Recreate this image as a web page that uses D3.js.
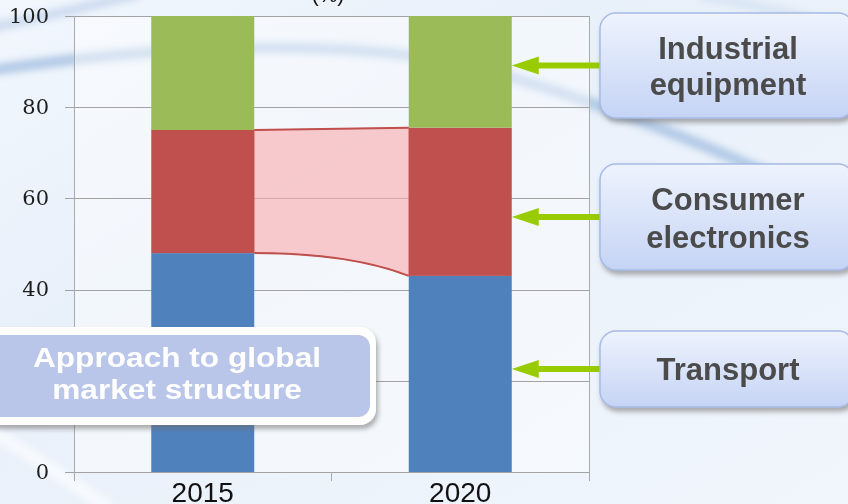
<!DOCTYPE html>
<html>
<head>
<meta charset="utf-8">
<script src="https://cdn.jsdelivr.net/npm/d3@7"></script>
<style>
  html, body { margin: 0; padding: 0; background: #eef4fb; }
  svg { display: block; }
</style>
</head>
<body>
<svg id="chart" width="848" height="504"></svg>
<script>
// ---- data ----
const years = ["2015", "2020"];
const segmentKeys = ["Transport", "Consumer electronics", "Industrial equipment"];
const transport = [48, 43];
const consumer = [27, 32.5];
const industrial = [25, 24.5];
const yTicks = [0, 20, 40, 60, 80, 100];
const segmentColors = ["#4f81bd", "#c0504d", "#9bbb59"];
const calloutLines = [["Industrial", "equipment"], ["Consumer", "electronics"], ["Transport"]];
const titleLines = ["Approach to global", "market structure"];
const unitLabel = "(%)";

// ---- layout ----
const W = 848, H = 504;
const plot = { left: 74, right: 589, top: 16, bottom: 472 };

const svg = d3.select("#chart");
const defs = svg.append("defs");

const bgGrad = defs.append("linearGradient").attr("id", "bgGrad")
  .attr("x1", 0).attr("y1", 0).attr("x2", 1).attr("y2", 1);
bgGrad.append("stop").attr("offset", 0).attr("stop-color", "#f2f7fd");
bgGrad.append("stop").attr("offset", 0.35).attr("stop-color", "#e8f0fa");
bgGrad.append("stop").attr("offset", 1).attr("stop-color", "#f1f6fc");

const boxGrad = defs.append("linearGradient").attr("id", "boxGrad")
  .attr("x1", 0).attr("y1", 0).attr("x2", 0).attr("y2", 1);
boxGrad.append("stop").attr("offset", 0).attr("stop-color", "#eef3fd");
boxGrad.append("stop").attr("offset", 1).attr("stop-color", "#c5d4f5");

const soft = defs.append("filter").attr("id", "soft")
  .attr("x", "-10%").attr("y", "-50%").attr("width", "120%").attr("height", "200%");
soft.append("feGaussianBlur").attr("stdDeviation", 3.5);

const shadow = defs.append("filter").attr("id", "shadow")
  .attr("x", "-10%").attr("y", "-20%").attr("width", "130%").attr("height", "150%");
shadow.append("feGaussianBlur").attr("in", "SourceAlpha").attr("stdDeviation", 2.5).attr("result", "b");
shadow.append("feOffset").attr("in", "b").attr("dx", 2).attr("dy", 4).attr("result", "o");
shadow.append("feFlood").attr("flood-color", "#6b6b6b").attr("flood-opacity", 0.55);
shadow.append("feComposite").attr("in2", "o").attr("operator", "in").attr("result", "s");
const sm = shadow.append("feMerge");
sm.append("feMergeNode").attr("in", "s");
sm.append("feMergeNode").attr("in", "SourceGraphic");

// ---- background ----
svg.append("rect").attr("width", W).attr("height", H).attr("fill", "url(#bgGrad)");

// decorative swooshes
const swoosh = svg.append("g").attr("filter", "url(#soft)").attr("fill", "none");
swoosh.append("path")
  .attr("d", "M-20,72 C60,60 170,46 300,48 C400,50 470,62 520,80 C600,104 700,140 860,215")
  .attr("stroke", "#a8c2e3").attr("stroke-width", 11).attr("opacity", 0.85);
swoosh.append("path")
  .attr("d", "M-20,30 C30,20 80,8 140,-6")
  .attr("stroke", "#c0d3eb").attr("stroke-width", 10).attr("opacity", 0.75);
swoosh.append("path")
  .attr("d", "M700,-4 C760,6 810,16 860,34")
  .attr("stroke", "#cddcf0").attr("stroke-width", 8).attr("opacity", 0.6);
swoosh.append("path")
  .attr("d", "M-10,430 C30,455 70,480 110,510")
  .attr("stroke", "#ffffff").attr("stroke-width", 14).attr("opacity", 0.6);

// plot area wash
svg.append("rect")
  .attr("x", plot.left).attr("y", plot.top)
  .attr("width", plot.right - plot.left).attr("height", plot.bottom - plot.top)
  .attr("fill", "#ffffff").attr("opacity", 0.45);

// ---- scales ----
const x = d3.scaleBand().domain(years).range([plot.left, plot.right])
  .paddingInner(0.6).paddingOuter(0.3);
const y = d3.scaleLinear().domain([0, 100]).range([plot.bottom, plot.top]);

// ---- gridlines + y labels ----
const yAxis = d3.axisLeft(y).tickValues(yTicks).tickFormat(d3.format("d"))
  .tickSize(-(plot.right - 65)).tickPadding(16);
const yg = svg.append("g").attr("transform", "translate(65,0)").call(yAxis);
yg.select(".domain").remove();
yg.selectAll(".tick line").attr("stroke", "#a3a3a3").attr("shape-rendering", "crispEdges");
yg.selectAll(".tick text")
  .attr("font-family", "'DejaVu Serif', serif").attr("font-size", 21)
  .attr("fill", "#1e1e1e").attr("dy", "0.3em");

// vertical frame lines and category boundary ticks
const boundaries = [plot.left, x(years[1]) - x.step() * x.paddingInner() / 2, plot.right];
svg.append("g").selectAll("line").data(boundaries).join("line")
  .attr("x1", d => d).attr("x2", d => d)
  .attr("y1", (d, i) => i === 1 ? plot.bottom : plot.top)
  .attr("y2", plot.bottom + 9)
  .attr("stroke", "#aaaaaa").attr("shape-rendering", "crispEdges");

// ---- stacked data ----
const rows = years.map((yr, i) => ({
  year: yr,
  "Transport": transport[i],
  "Consumer electronics": consumer[i],
  "Industrial equipment": industrial[i]
}));
const series = d3.stack().keys(segmentKeys)(rows);

// flow band connecting the consumer-electronics segments
const ce = series[1];
const bx0 = x(years[0]) + x.bandwidth();
const bx1 = x(years[1]);
const top0 = y(ce[0][1]), top1 = y(ce[1][1]);
const bot0 = y(ce[0][0]), bot1 = y(ce[1][0]);
const cx = bx0 + 0.62 * (bx1 - bx0);
const bandPath = d3.path();
bandPath.moveTo(bx0, top0);
bandPath.lineTo(bx1, top1);
bandPath.lineTo(bx1, bot1);
bandPath.quadraticCurveTo(cx, bot0, bx0, bot0);
bandPath.closePath();
svg.append("path").attr("d", bandPath.toString())
  .attr("fill", "rgb(249,172,176)").attr("fill-opacity", 0.62)
  .attr("stroke", "#d9777a").attr("stroke-width", 1).attr("stroke-opacity", 0.7);

// ---- bars ----
svg.append("g").selectAll("g").data(series).join("g")
  .attr("fill", (d, i) => segmentColors[i])
  .selectAll("rect").data(d => d).join("rect")
  .attr("x", d => x(d.data.year))
  .attr("width", x.bandwidth())
  .attr("y", d => y(d[1]))
  .attr("height", d => y(d[0]) - y(d[1]));

// band edges
const topEdge = d3.path();
topEdge.moveTo(bx0, top0); topEdge.lineTo(bx1, top1);
const botEdge = d3.path();
botEdge.moveTo(bx0, bot0); botEdge.quadraticCurveTo(cx, bot0, bx1, bot1);
svg.append("path").attr("d", topEdge.toString()).attr("fill", "none")
  .attr("stroke", "#c0504d").attr("stroke-width", 2);
svg.append("path").attr("d", botEdge.toString()).attr("fill", "none")
  .attr("stroke", "#c0504d").attr("stroke-width", 2);

// ---- x labels ----
svg.append("g").selectAll("text").data(years).join("text")
  .attr("x", d => x(d) + x.bandwidth() / 2)
  .attr("y", 502)
  .attr("text-anchor", "middle")
  .attr("font-family", "'Liberation Sans', Arial, sans-serif")
  .attr("font-size", 28).attr("fill", "#111")
  .text(d => d);

// unit label
svg.append("text").attr("x", 328).attr("y", 2)
  .attr("text-anchor", "middle")
  .attr("font-family", "'Liberation Sans', Arial, sans-serif")
  .attr("font-size", 21).attr("fill", "#111")
  .text(unitLabel);

// ---- callouts with arrows ----
const boxX = 600, boxW = 254;
const boxes = [
  { top: 13, h: 105, base: [59, 95] },
  { top: 164, h: 106, base: [210, 248] },
  { top: 331, h: 76, base: [380] }
];
const tipX = x(years[1]) + x.bandwidth();
const arrowG = svg.append("g").attr("fill", "#99cc00");
boxes.forEach((b, i) => {
  const cy = b.top + b.h / 2;
  const back = tipX + 27;
  arrowG.append("path").attr("d",
    `M${tipX},${cy} L${back},${cy - 9} L${back},${cy - 3} L${boxX + 2},${cy - 3} ` +
    `L${boxX + 2},${cy + 3} L${back},${cy + 3} L${back},${cy + 9} Z`);
});

const cg = svg.append("g").selectAll("g").data(calloutLines).join("g");
cg.append("rect")
  .attr("x", boxX).attr("y", (d, i) => boxes[i].top)
  .attr("width", boxW).attr("height", (d, i) => boxes[i].h)
  .attr("rx", 16).attr("ry", 16)
  .attr("fill", "url(#boxGrad)").attr("stroke", "#a7bbe4").attr("stroke-width", 1.5)
  .attr("filter", "url(#shadow)");
cg.each(function (lines, i) {
  d3.select(this).selectAll("text").data(lines).join("text")
    .attr("x", 728).attr("y", (d, j) => boxes[i].base[j])
    .attr("text-anchor", "middle")
    .attr("font-family", "'Liberation Sans', Arial, sans-serif")
    .attr("font-weight", "bold").attr("font-size", 31)
    .attr("fill", "#4b4b4b")
    .text(d => d);
});

// ---- title badge ----
const badge = svg.append("g");
badge.append("rect").attr("x", -30).attr("y", 327).attr("width", 406).attr("height", 98)
  .attr("rx", 16).attr("fill", "#ffffff").attr("filter", "url(#shadow)");
badge.append("rect").attr("x", -30).attr("y", 335).attr("width", 400).attr("height", 82)
  .attr("rx", 12).attr("fill", "#b9c5e9");
badge.selectAll("text").data(titleLines).join("text")
  .attr("transform", (d, i) => `translate(177,${[367, 399][i]}) scale(1.13,1)`)
  .attr("text-anchor", "middle")
  .attr("font-family", "'Liberation Sans', Arial, sans-serif")
  .attr("font-weight", "bold").attr("font-size", 28)
  .attr("fill", "#ffffff")
  .text(d => d);
</script>
</body>
</html>
